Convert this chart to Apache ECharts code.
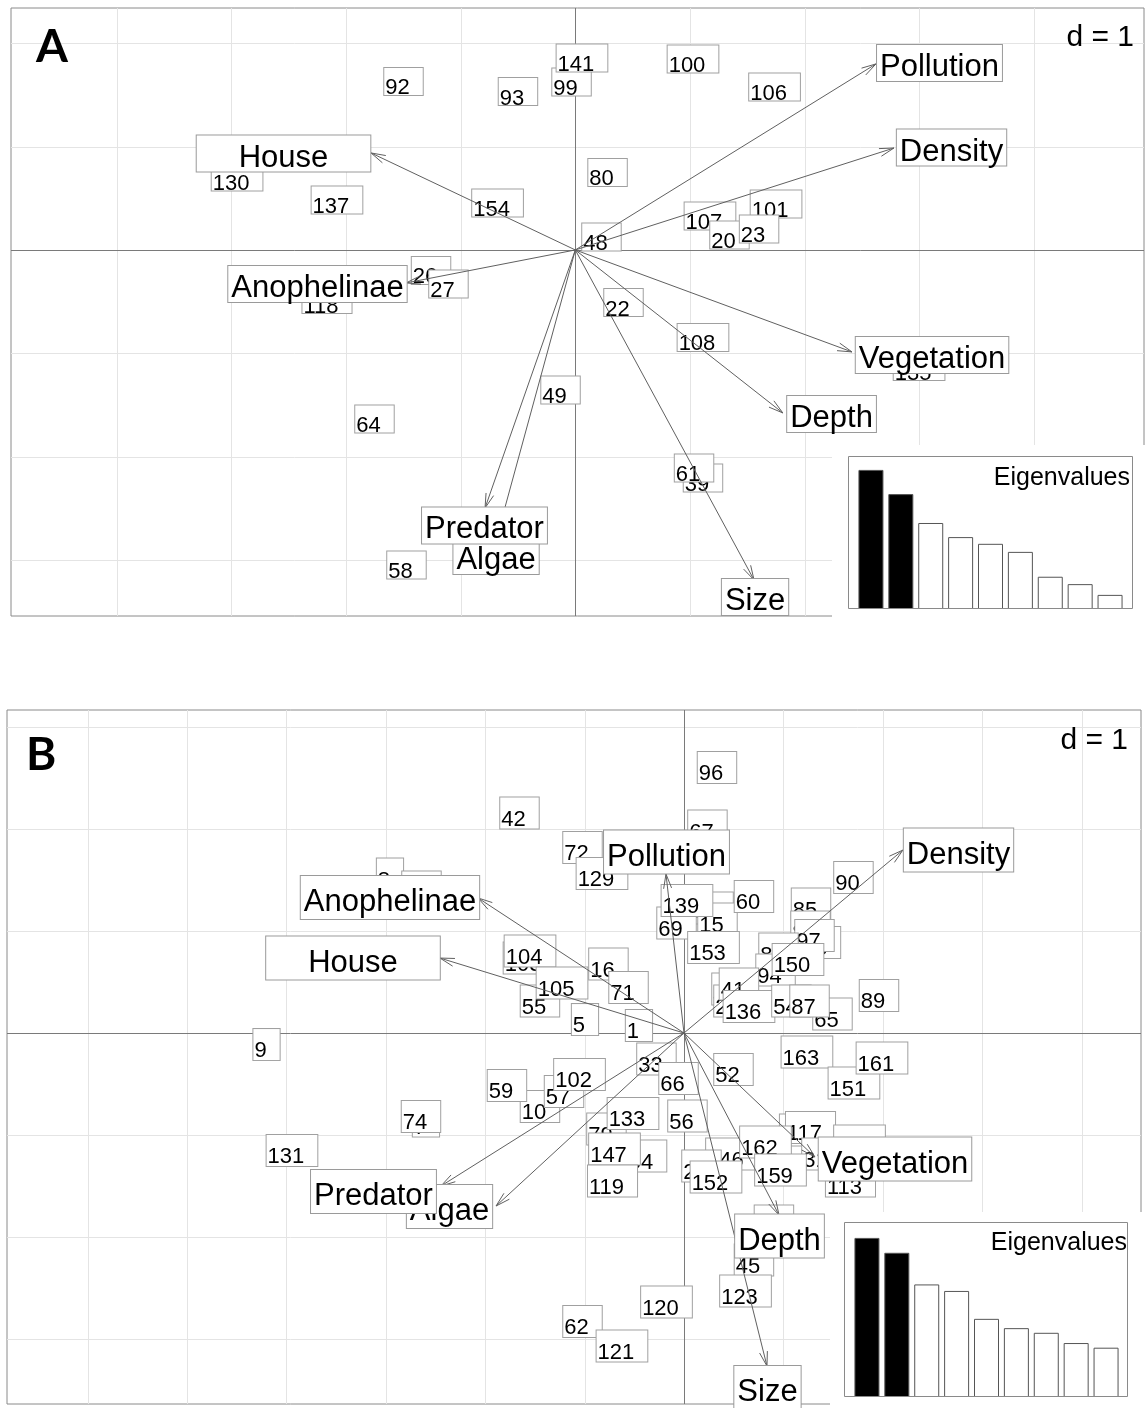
<!DOCTYPE html>
<html><head><meta charset="utf-8">
<script src="https://cdn.jsdelivr.net/npm/echarts@6/dist/echarts.min.js"></script>
<style>html,body{margin:0;padding:0;background:#fff}#c{width:1147px;height:1408px}</style>
</head><body><div id="c"></div>
<script>
// ---------------- Panel A data ----------------
const siteLabelsA = ['92','93','99','141','100','106','80','101','107','20','23','48','130','137','154','26','27','118','22','108','135','49','64','39','61','58'];
const siteXA = [-1.498,-0.500,-0.033,0.058,1.026,1.737,0.281,1.750,1.174,1.344,1.602,0.228,-2.949,-2.078,-0.678,-1.258,-1.106,-2.165,0.420,1.113,2.997,-0.129,-1.751,1.113,1.035,-1.472];
const siteYA = [1.630,1.533,1.625,1.857,1.847,1.576,0.750,0.445,0.329,0.145,0.203,0.126,0.706,0.484,0.455,-0.198,-0.329,-0.479,-0.508,-0.846,-1.127,-1.354,-1.634,-2.205,-2.108,-3.046];
const varNamesA = ['House','Anophelinae','Pollution','Density','Vegetation','Depth','Size','Algae','Predator'];
const arrowXA = [-1.781,-1.476,2.621,2.778,2.412,1.809,1.558,-0.691,-0.787];
const arrowYA = [0.938,-0.319,1.799,0.986,-0.986,-1.576,-3.191,-2.805,-2.495];
const varLabelXA = [-2.544,-2.248,3.175,3.280,3.110,2.234,1.567,-0.691,-0.792];
const varLabelYA = [0.933,-0.329,1.809,0.991,-1.015,-1.586,-3.356,-2.959,-2.664];
const eigenA = [2.07,1.71,1.28,1.07,0.97,0.85,0.48,0.37,0.21];
const gridTicksXA = [-4,-3,-2,-1,1,2,3,4];
const gridTicksYA = [2,1,-1,-2,-3];

// ---------------- Panel B data ----------------
const siteLabelsB = ['67','96','42','72','129','8','38','144','15','69','139','60','153','90','85','86','98','97','84','94','150','46','25','41','136','65','54','87','89','103','104','55','105','16','71','5','1','9','33','66','10','57','102','59','56','52','163','151','161','7','74','131','154','79','133','147','119','116','117','138','31','113','146','162','159','24','152','44','45','123','120','62','121'];
const siteXB = [0.236,0.332,-1.655,-1.021,-0.825,-2.958,-2.641,0.236,0.337,-0.075,0.030,0.704,0.297,1.705,1.278,1.273,1.378,1.313,0.951,0.921,1.147,0.478,0.498,0.553,0.654,1.494,1.081,1.263,1.962,-1.559,-1.549,-1.449,-1.227,-0.760,-0.558,-0.996,-0.453,-4.200,-0.277,-0.055,-1.449,-1.207,-1.051,-1.781,0.035,0.498,1.237,1.710,1.992,-2.596,-2.646,-3.944,-0.433,-0.780,-0.513,-0.699,-0.719,1.212,1.273,1.766,1.383,1.675,0.478,0.820,0.971,0.176,0.322,0.905,0.704,0.619,-0.176,-1.021,-0.624];
const siteYB = [2.029,2.603,2.157,1.819,1.564,1.559,1.431,1.225,1.118,1.078,1.299,1.338,0.838,1.525,1.265,1.039,0.887,0.956,0.824,0.618,0.721,0.431,0.314,0.480,0.260,0.186,0.314,0.314,0.368,0.735,0.804,0.314,0.490,0.676,0.446,0.132,0.074,-0.113,-0.255,-0.446,-0.721,-0.574,-0.407,-0.515,-0.814,-0.358,-0.186,-0.490,-0.245,-0.863,-0.819,-1.152,-1.206,-0.941,-0.789,-1.137,-1.451,-0.951,-0.926,-1.059,-1.186,-1.451,-1.186,-1.069,-1.343,-1.304,-1.412,-1.843,-2.225,-2.529,-2.637,-2.828,-3.069];
const varNamesB = ['Anophelinae','House','Pollution','Density','Vegetation','Depth','Size','Algae','Predator'];
const arrowXB = [-2.072,-2.455,-0.181,2.203,1.318,0.956,0.835,-1.891,-2.445];
const arrowYB = [1.324,0.735,1.559,1.794,-1.216,-1.784,-3.265,-1.696,-1.500];
const varLabelXB = [-2.958,-3.330,-0.176,2.762,2.123,0.961,0.840,-2.359,-3.124];
const varLabelYB = [1.328,0.735,1.775,1.794,-1.235,-1.990,-3.475,-1.701,-1.554];
const eigenB = [1.71,1.55,1.21,1.14,0.84,0.74,0.69,0.58,0.53];
const gridTicksXB = [-6,-5,-4,-3,-2,-1,1,2,3,4];
const gridTicksYB = [3,2,1,-1,-2,-3];
const eigenCats = ['1','2','3','4','5','6','7','8','9'];

// ---------------- layout / styles ----------------
const FONT = "'Liberation Sans', Arial, Helvetica, sans-serif";
const rangeA = {x:[-4.920, 4.958], y:[-3.540, 2.340]};
const rangeB = {x:[-6.811, 4.598], y:[-3.637, 3.167]};
const wideVarPadA = {House:[9,42,0,42]};
const wideVarPadB = {House:[10,42,0,42]};

function gridLinesSeries(idx, tx, ty, r) {
  const items = [];
  tx.forEach(v => items.push([v, 0, 0]));
  ty.forEach(v => items.push([v, 1, 0]));
  items.push([0, 0, 1]); items.push([0, 1, 1]);
  return {
    type:'custom', xAxisIndex:idx, yAxisIndex:idx, z:1, silent:true, clip:false,
    data: items,
    renderItem: (params, api) => {
      const v = api.value(0), dir = api.value(1), main = api.value(2);
      let p1, p2;
      if (dir === 0) { p1 = api.coord([v, r.y[0]]); p2 = api.coord([v, r.y[1]]); const x = Math.round(p1[0]) + 0.5; p1[0] = x; p2[0] = x; }
      else { p1 = api.coord([r.x[0], v]); p2 = api.coord([r.x[1], v]); const y = Math.round(p1[1]) + 0.5; p1[1] = y; p2[1] = y; }
      return {type:'line', shape:{x1:p1[0], y1:p1[1], x2:p2[0], y2:p2[1]},
        style:{stroke: main ? '#7a7a7a' : '#e4e4e4', lineWidth:1}};
    }
  };
}

function arrowSeries(idx, xs, ys) {
  return {
    type:'custom', xAxisIndex:idx, yAxisIndex:idx, z:3, silent:true, clip:false,
    data: xs.map((x, i) => [x, ys[i]]),
    renderItem: (params, api) => {
      const o = api.coord([0, 0]);
      const t = api.coord([api.value(0), api.value(1)]);
      const ang = Math.atan2(t[1] - o[1], t[0] - o[0]);
      const L = 15, a = 0.27;
      const h1 = [t[0] - L * Math.cos(ang - a), t[1] - L * Math.sin(ang - a)];
      const h2 = [t[0] - L * Math.cos(ang + a), t[1] - L * Math.sin(ang + a)];
      return {type:'group', children:[
        {type:'line', shape:{x1:o[0], y1:o[1], x2:t[0], y2:t[1]}, style:{stroke:'#606060', lineWidth:1}},
        {type:'polyline', shape:{points:[h1, t, h2]}, style:{stroke:'#606060', lineWidth:1, fill:null}}
      ]};
    }
  };
}

// label box: text sits low in the box (top padding), box centred on the point
function siteSeries(idx, labels, xs, ys, fs, lh, pad) {
  const H = lh + pad[0] + pad[2];
  return {
    type:'scatter', xAxisIndex:idx, yAxisIndex:idx, z:2, silent:true, symbolSize:1,
    itemStyle:{color:'rgba(0,0,0,0)', opacity:1}, emphasis:{disabled:true},
    data: xs.map((x, i) => [x, ys[i], labels[i]]),
    label:{show:true, position:'inside', formatter: p => p.value[2], opacity:1,
      fontFamily:FONT, fontSize:fs, lineHeight:lh, color:'#000',
      textBorderWidth:0, textBorderColor:'transparent', textShadowBlur:0,
      backgroundColor:'#fff', borderColor:'#a0a0a0', borderWidth:1, padding:pad,
      align:'center', verticalAlign:'top', offset:[0, -H / 2]}
  };
}

function varSeries(idx, names, xs, ys, lh, pt, wide) {
  const H = lh + pt;
  return {
    type:'scatter', xAxisIndex:idx, yAxisIndex:idx, z:4, silent:true, symbolSize:1,
    itemStyle:{color:'rgba(0,0,0,0)', opacity:1}, emphasis:{disabled:true},
    data: xs.map((x, i) => {
      const d = {value:[x, ys[i], names[i]]};
      if (wide[names[i]]) d.label = {padding: wide[names[i]]};
      return d;
    }),
    label:{show:true, position:'inside', formatter: p => p.value[2], opacity:1,
      fontFamily:FONT, fontSize:31, lineHeight:lh, color:'#000',
      textBorderWidth:0, textBorderColor:'transparent', textShadowBlur:0,
      backgroundColor:'#fff', borderColor:'#9a9a9a', borderWidth:1, padding:[pt,3,0,3],
      align:'center', verticalAlign:'top', offset:[0, -H / 2]}
  };
}

function eigenSeries(idx, vals) {
  return {
    type:'bar', xAxisIndex:idx, yAxisIndex:idx, z:55, silent:true, barWidth:25,
    data: vals.map((v, i) => ({value:v, itemStyle:{color: i < 2 ? '#000' : '#fff'}})),
    itemStyle:{borderColor:'#555', borderWidth:1}
  };
}

const hiddenAxis = {axisLine:{show:false}, axisTick:{show:false}, axisLabel:{show:false}, splitLine:{show:false}};

const option = {
  animation:false,
  backgroundColor:'#fff',
  grid:[
    {left:11, top:8, width:1133, height:608, show:true, borderColor:'#8a8a8a', borderWidth:1, backgroundColor:'#fff'},
    {left:7, top:710, width:1134, height:694, show:true, borderColor:'#8a8a8a', borderWidth:1, backgroundColor:'#fff'},
    {left:856, top:456, width:269, height:153, show:false},
    {left:852, top:1222, width:269, height:175, show:false}
  ],
  xAxis:[
    Object.assign({type:'value', gridIndex:0, min:rangeA.x[0], max:rangeA.x[1]}, hiddenAxis),
    Object.assign({type:'value', gridIndex:1, min:rangeB.x[0], max:rangeB.x[1]}, hiddenAxis),
    Object.assign({type:'category', gridIndex:2, data:eigenCats}, hiddenAxis),
    Object.assign({type:'category', gridIndex:3, data:eigenCats}, hiddenAxis)
  ],
  yAxis:[
    Object.assign({type:'value', gridIndex:0, min:rangeA.y[0], max:rangeA.y[1]}, hiddenAxis),
    Object.assign({type:'value', gridIndex:1, min:rangeB.y[0], max:rangeB.y[1]}, hiddenAxis),
    Object.assign({type:'value', gridIndex:2, min:0, max: v => v.max * 1.1}, hiddenAxis),
    Object.assign({type:'value', gridIndex:3, min:0, max: v => v.max * 1.1}, hiddenAxis)
  ],
  graphic:[
    {type:'rect', z:50, silent:true, shape:{x:832, y:445, width:320, height:180}, style:{fill:'#fff'}},
    {type:'rect', z:50, silent:true, shape:{x:830, y:1212, width:320, height:200}, style:{fill:'#fff'}},
    {type:'rect', z:60, silent:true, shape:{x:848.5, y:456.5, width:284, height:152}, style:{fill:null, stroke:'#8a8a8a', lineWidth:1}},
    {type:'rect', z:60, silent:true, shape:{x:844.5, y:1222.5, width:283, height:174}, style:{fill:null, stroke:'#8a8a8a', lineWidth:1}},
    {type:'text', z:60, silent:true, style:{text:'Eigenvalues', x:1130, y:478, align:'right', verticalAlign:'middle', font:'25px ' + FONT, fill:'#000'}},
    {type:'text', z:60, silent:true, style:{text:'Eigenvalues', x:1127, y:1243, align:'right', verticalAlign:'middle', font:'25px ' + FONT, fill:'#000'}},
    {type:'text', z:60, silent:true, style:{text:'d = 1', x:1134, y:38, align:'right', verticalAlign:'middle', font:'30px ' + FONT, fill:'#000'}},
    {type:'text', z:60, silent:true, style:{text:'d = 1', x:1128, y:741, align:'right', verticalAlign:'middle', font:'30px ' + FONT, fill:'#000'}},
    {type:'text', z:60, silent:true, style:{text:'A', x:36, y:47, align:'left', verticalAlign:'middle', font:'bold 46px Lato, ' + FONT, fill:'#000'}},
    {type:'text', z:60, silent:true, style:{text:'B', x:26, y:755, align:'left', verticalAlign:'middle', font:'bold 46px Lato, ' + FONT, fill:'#000'}}
  ],
  series:[
    gridLinesSeries(0, gridTicksXA, gridTicksYA, rangeA),
    gridLinesSeries(1, gridTicksXB, gridTicksYB, rangeB),
    siteSeries(0, siteLabelsA, siteXA, siteYA, 22, 13, [14,13,0,1]),
    siteSeries(1, siteLabelsB, siteXB, siteYB, 22, 18, [13,13,0,1]),
    arrowSeries(0, arrowXA, arrowYA),
    arrowSeries(1, arrowXB, arrowYB),
    varSeries(0, varNamesA, varLabelXA, varLabelYA, 27, 9, wideVarPadA),
    varSeries(1, varNamesB, varLabelXB, varLabelYB, 33, 10, wideVarPadB),
    eigenSeries(2, eigenA),
    eigenSeries(3, eigenB)
  ]
};
const chart = echarts.init(document.getElementById('c'));
chart.setOption(option);
</script>
</body></html>
